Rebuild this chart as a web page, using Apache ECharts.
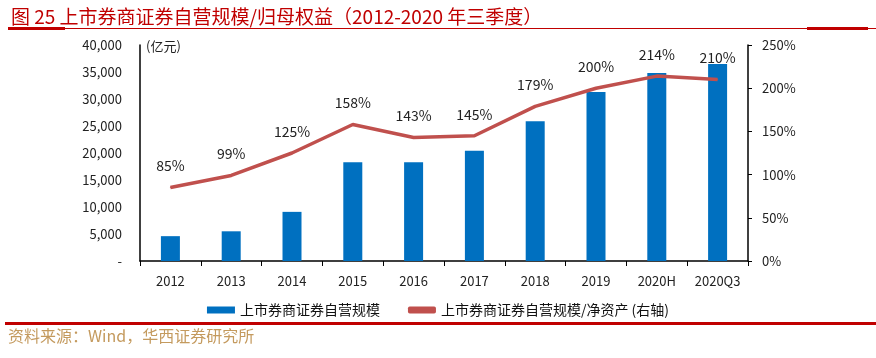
<!DOCTYPE html>
<html>
<head>
<meta charset="utf-8">
<script src="https://cdn.jsdelivr.net/npm/echarts@6/dist/echarts.min.js"></script>
<style>
html, body { margin: 0; padding: 0; background: #fff; }
#main { width: 876px; height: 358px; }
</style>
</head>
<body>
<div id="main"></div>
<script>
// 数据
var categories = ['2012', '2013', '2014', '2015', '2016', '2017', '2018', '2019', '2020H', '2020Q3'];
var selfScale = [4600, 5500, 9100, 18300, 18300, 20400, 25900, 31300, 34800, 36500];   // 亿元
var scaleToEquity = [85, 99, 125, 158, 143, 145, 179, 200, 214, 210];                  // %
var barName = '上市券商证券自营规模';
var lineName = '上市券商证券自营规模/净资产 (右轴)';

var font = '"Noto Sans CJK SC", "Noto Sans", sans-serif';
var red = '#C00000';

var chart = echarts.init(document.getElementById('main'));

var option = {
    backgroundColor: '#fff',
    animation: false,
    textStyle: { fontFamily: font },
    title: {
        text: '图 25 上市券商证券自营规模/归母权益（2012-2020 年三季度）',
        left: 6,
        top: 2,
        textStyle: { color: red, fontSize: 19, fontWeight: 'normal', fontFamily: font }
    },
    graphic: [
        // 标题下划线
        { type: 'rect', shape: { x: 8, y: 28, width: 868, height: 1 }, style: { fill: red } },
        { type: 'rect', shape: { x: 8, y: 27, width: 57, height: 3 }, style: { fill: red } },
        { type: 'rect', shape: { x: 807, y: 27, width: 61, height: 3 }, style: { fill: red } },
        // 底部分隔线
        { type: 'rect', shape: { x: 5, y: 322, width: 871, height: 3 }, style: { fill: red } },
        {
            type: 'text', left: 8, top: 328,
            style: { text: '资料来源：Wind，华西证券研究所', fill: '#C49A5E', font: '16px ' + font }
        },
        {
            type: 'text', left: 146, top: 40,
            style: { text: '(亿元)', fill: '#222', font: '13px ' + font }
        }
    ],
    legend: {
        bottom: 36,
        left: 'center',
        itemGap: 28,
        itemWidth: 28,
        itemHeight: 7,
        textStyle: { fontSize: 14, color: '#111', fontFamily: font },
        data: [
            { name: barName, icon: 'rect' },
            { name: lineName, icon: 'roundRect' }
        ]
    },
    grid: { left: 140, right: 128, top: 45, bottom: 97 },
    xAxis: {
        type: 'category',
        data: categories,
        axisLine: { lineStyle: { color: '#000', width: 1.5 } },
        axisTick: { show: true, length: 5, lineStyle: { color: '#000' } },
        axisLabel: { color: '#222', fontSize: 13, margin: 14 }
    },
    yAxis: [
        {
            type: 'value',
            min: 0, max: 40000, interval: 5000,
            axisLine: { show: true, lineStyle: { color: '#000', width: 1.5 } },
            axisTick: { show: false },
            splitLine: { show: false },
            axisLabel: {
                color: '#222', fontSize: 13, margin: 18,
                formatter: function (v) {
                    return v === 0 ? '-' : v.toLocaleString('en-US');
                }
            }
        },
        {
            type: 'value',
            min: 0, max: 250, interval: 50,
            position: 'right',
            axisLine: { show: true, lineStyle: { color: '#000', width: 1.5 } },
            axisTick: { show: true, inside: false, length: 4, lineStyle: { color: '#000' } },
            splitLine: { show: false },
            axisLabel: { color: '#222', fontSize: 13, margin: 14, formatter: '{value}%' }
        }
    ],
    series: [
        {
            name: barName,
            type: 'bar',
            data: selfScale,
            barWidth: 19,
            itemStyle: { color: '#0070C0' }
        },
        {
            name: lineName,
            type: 'line',
            yAxisIndex: 1,
            data: scaleToEquity,
            symbol: 'circle',
            symbolSize: 1,
            showSymbol: true,
            lineStyle: { color: '#C0504D', width: 3.5 },
            itemStyle: { color: '#C0504D' },
            label: {
                show: true,
                position: 'top',
                distance: 14,
                color: '#222',
                fontSize: 14,
                formatter: '{c}%'
            }
        }
    ]
};

chart.setOption(option);
</script>
</body>
</html>
